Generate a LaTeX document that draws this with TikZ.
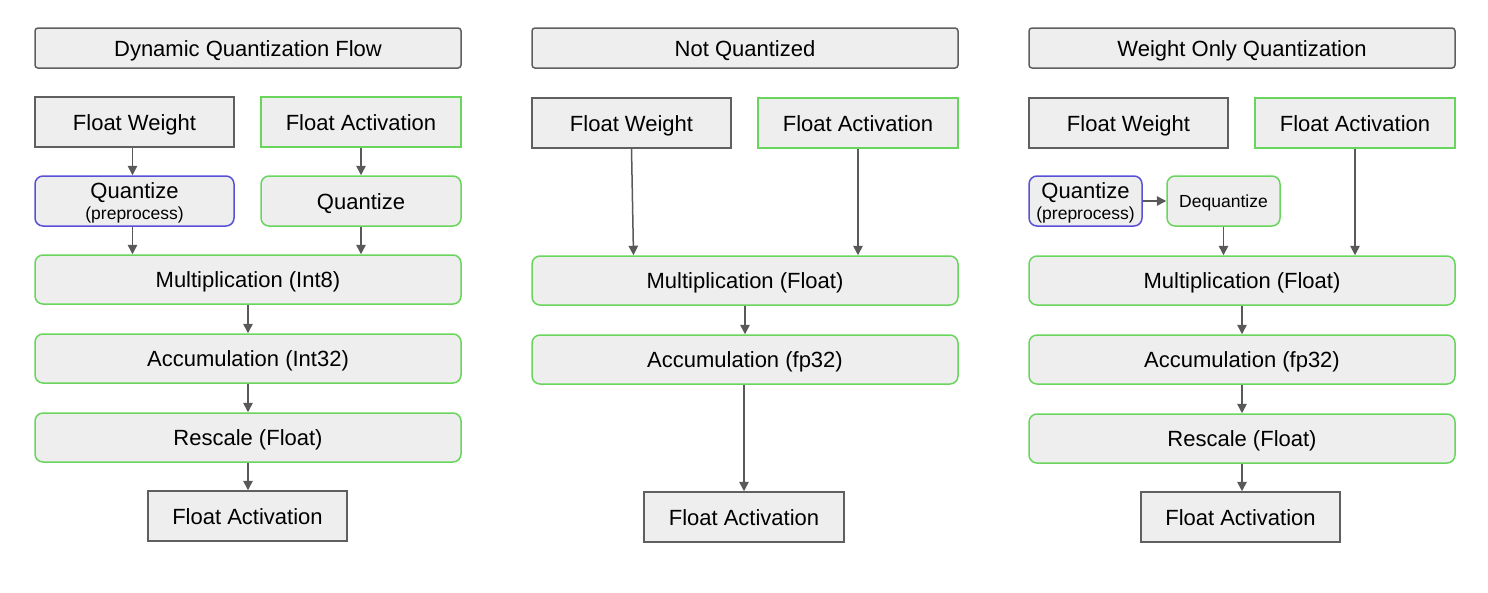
\documentclass[tikz,border=0pt]{standalone}
\usepackage{fontspec}
\setmainfont{Liberation Sans}
\usetikzlibrary{arrows.meta,calc}
\definecolor{boxfill}{HTML}{EEEEEE}
\definecolor{graystroke}{HTML}{5F5F5F}
\definecolor{greenstroke}{RGB}{106,213,93}
\definecolor{bluestroke}{RGB}{90,80,215}
\definecolor{arrowgray}{HTML}{595959}
\tikzset{
  basebox/.style={fill=boxfill, line width=1.5pt, inner sep=0pt, align=center,
    font=\fontsize{22}{24}\selectfont},
  oneline/.style={text height=16pt, text depth=0pt},
  titlebox/.style={basebox, oneline, draw=graystroke, rounded corners=3pt, minimum width=426pt, minimum height=40pt},
  graybox/.style={basebox, oneline, draw=graystroke, minimum height=50pt},
  greenbox/.style={basebox, oneline, draw=greenstroke, rounded corners=8pt, minimum height=50pt},
  bluebox/.style={basebox, draw=bluestroke, rounded corners=8pt, minimum height=50pt},
  smalltext/.style={font=\fontsize{17.5}{20}\selectfont, text height=13pt, text depth=0pt},
  conn/.style={draw=arrowgray, line width=1.5pt, -{Triangle[length=9.5pt,width=9.5pt]}}
}
\newcommand{\qpre}{\rule{0pt}{20pt}Quantize\\[-3pt]{\fontsize{17.5}{20}\selectfont (preprocess)}}
\begin{document}
\begin{tikzpicture}[x=1pt,y=-1pt]
\useasboundingbox (0,0) rectangle (1488,592);
% ---------- left column ----------
\node[titlebox] (tl) at (248,48) {Dynamic Quantization Flow};
\node[graybox, minimum width=199pt] (fwl) at (134.5,122) {Float Weight};
\node[graybox, draw=greenstroke, minimum width=200pt] (fal) at (361,122) {Float Activation};
\node[bluebox, minimum width=199pt] (ql) at (134.5,201) {\qpre};
\node[greenbox, minimum width=200pt] (qal) at (361,201) {Quantize};
\node[greenbox, minimum width=426pt, minimum height=49pt] (ml) at (248,279.5) {Multiplication (Int8)};
\node[greenbox, minimum width=426pt, minimum height=49pt] (al) at (248,358.5) {Accumulation (Int32)};
\node[greenbox, minimum width=426pt, minimum height=49pt] (rl) at (248,437.5) {Rescale (Float)};
\node[graybox, minimum width=199pt] (ol) at (247.5,516) {Float Activation};
\draw[conn] ([xshift=-2pt]fwl.south) -- ([xshift=-2pt]ql.north);
\draw[conn] (fal.south) -- (qal.north);
\draw[conn] ([xshift=-2pt]ql.south) -- ($(ql.south |- ml.north)+(-2,0)$);
\draw[conn] (qal.south) -- (qal.south |- ml.north);
\draw[conn] (ml.south) -- (al.north);
\draw[conn] (al.south) -- (rl.north);
\draw[conn] (rl.south) -- (rl.south |- ol.north);
% ---------- middle column ----------
\node[titlebox] (tm) at (745,48) {Not Quantized};
\node[graybox, minimum width=199pt] (fwm) at (631.5,123) {Float Weight};
\node[graybox, draw=greenstroke, minimum width=200pt] (fam) at (858,123) {Float Activation};
\node[greenbox, minimum width=426pt, minimum height=49pt] (mm) at (745,280.5) {Multiplication (Float)};
\node[greenbox, minimum width=426pt, minimum height=49pt] (am) at (745,359.5) {Accumulation (fp32)};
\node[graybox, minimum width=200pt] (om) at (744,517) {Float Activation};
\draw[conn] (fwm.south) -- ($(fwm.south |- mm.north)+(2,0)$);
\draw[conn] (fam.south) -- (fam.south |- mm.north);
\draw[conn] (mm.south) -- (am.north);
\draw[conn] ([xshift=-1pt]am.south) -- (om.north);
% ---------- right column ----------
\node[titlebox] (tr) at (1242,48) {Weight Only Quantization};
\node[graybox, minimum width=199pt] (fwr) at (1128.5,123) {Float Weight};
\node[graybox, draw=greenstroke, minimum width=200pt] (far) at (1355,123) {Float Activation};
\node[bluebox, minimum width=113pt] (qr) at (1085.5,201) {\qpre};
\node[greenbox, minimum width=113pt, smalltext] (dqr) at (1223.5,201) {Dequantize};
\node[greenbox, minimum width=426pt, minimum height=49pt] (mr) at (1242,280.5) {Multiplication (Float)};
\node[greenbox, minimum width=426pt, minimum height=49pt] (ar) at (1242,359.5) {Accumulation (fp32)};
\node[greenbox, minimum width=426pt, minimum height=49pt] (rr) at (1242,438.5) {Rescale (Float)};
\node[graybox, minimum width=199pt] (or) at (1240.5,517) {Float Activation};
\draw[conn] (qr.east) -- (dqr.west);
\draw[conn] (dqr.south) -- (dqr.south |- mr.north);
\draw[conn] (far.south) -- (far.south |- mr.north);
\draw[conn] (mr.south) -- (ar.north);
\draw[conn] (ar.south) -- (rr.north);
\draw[conn] (rr.south) -- (rr.south |- or.north);
\end{tikzpicture}
\end{document}
